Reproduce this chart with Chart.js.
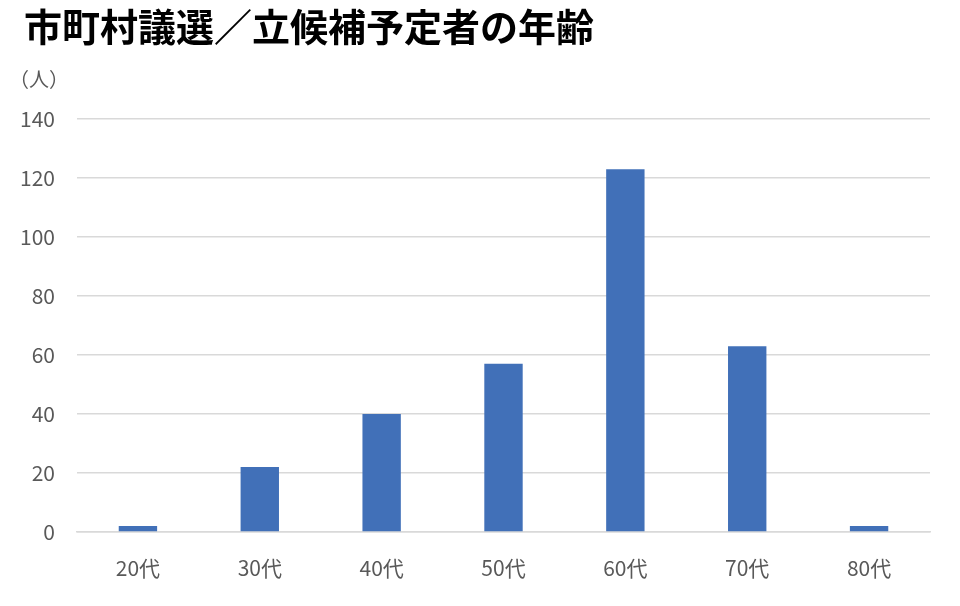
<!DOCTYPE html>
<html><head><meta charset="utf-8">
<script src="https://cdn.jsdelivr.net/npm/chart.js@4"></script>
<style>
html,body{margin:0;padding:0;background:#fff;}
#wrap{position:relative;width:960px;height:606px;overflow:hidden;}
#title{position:absolute;left:24px;top:-3px;font-family:"Noto Sans CJK JP";font-weight:bold;font-size:38px;color:#000;white-space:nowrap;}
#unit{position:absolute;left:9px;top:64px;font-family:"Noto Sans CJK JP";font-size:20px;color:#595959;}
canvas{position:absolute;left:0;top:0;}
</style></head>
<body><div id="wrap">
<canvas id="c" width="960" height="606"></canvas>
<div id="title">市町村議選／立候補予定者の年齢</div>
<div id="unit">（人）</div>
</div>
<script>
const categories = ["20代","30代","40代","50代","60代","70代","80代"];
const counts = [2,22,40,57,123,63,2];
const yTicks = [0,20,40,60,80,100,120,140];

new Chart(document.getElementById('c'), {
  type: 'bar',
  data: { labels: categories, datasets: [{ data: counts, backgroundColor: '#4170b8', barPercentage: 0.315, categoryPercentage: 1 }] },
  options: {
    responsive: false, animation: false,
    layout: { padding: { left: 0, right: 30, top: 119, bottom: 0 } },
    plugins: { legend: { display: false }, tooltip: { enabled: false } },
    scales: {
      x: {
        grid: { display: false, drawTicks: false },
        border: { display: true, color: '#d9d9d9', width: 1.5 },
        ticks: { padding: 23, color: '#595959', font: { family: 'Noto Sans CJK JP', size: 21 } },
        afterFit: s => { s.height = 74; }
      },
      y: {
        min: 0, max: 140,
        afterBuildTicks: s => { s.ticks = yTicks.map(v => ({ value: v })); },
        grid: { color: '#d9d9d9', lineWidth: 1.5, drawTicks: false },
        border: { display: false },
        ticks: { padding: 22, color: '#595959', font: { family: 'Noto Sans CJK JP', size: 21 } },
        afterFit: s => { s.width = 77; }
      }
    }
  }
});
</script>
</body></html>
